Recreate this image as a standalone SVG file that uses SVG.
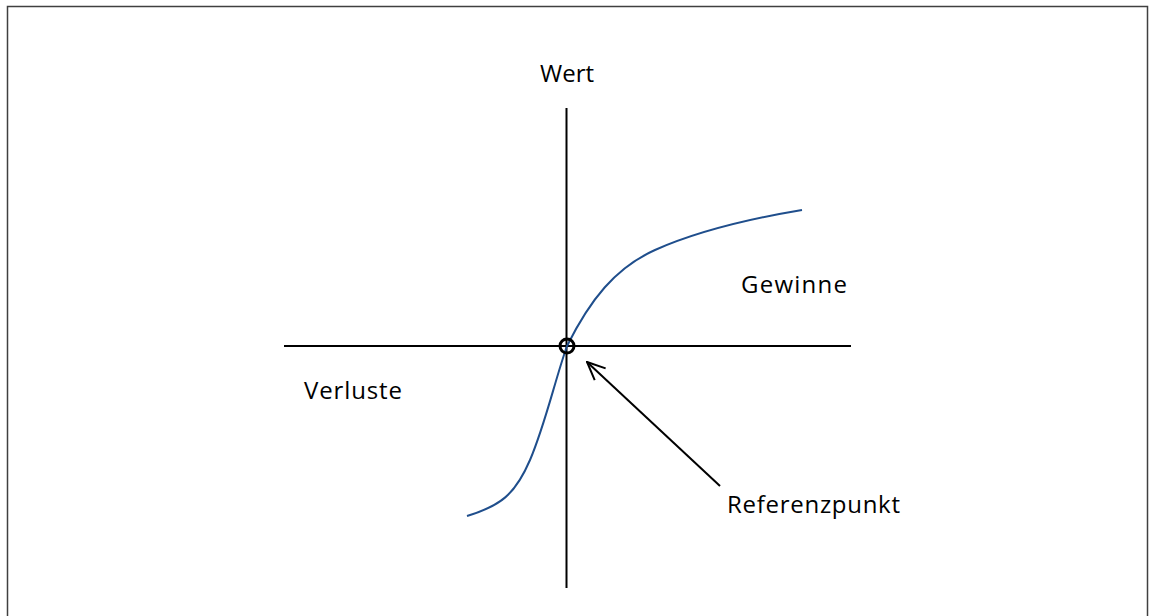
<svg xmlns="http://www.w3.org/2000/svg" width="1149" height="616" viewBox="0 0 1149 616">
<style>
.axis{stroke:#000;stroke-width:2;fill:none}
.lbl{font-family:"Open Sans",Lato,sans-serif;font-size:24px;fill:#000}
</style>
<defs>
<marker id="open" markerWidth="20" markerHeight="20" refX="19" refY="10" orient="auto" markerUnits="userSpaceOnUse">
<path d="M1,2 L19,10 L1,18" fill="none" stroke="#000" stroke-width="2"/>
</marker>
</defs>
<rect x="7.5" y="6.5" width="1140" height="620" fill="#fff" stroke="#404040" stroke-width="1.5"/>
<g id="connectors">
<line class="axis" x1="566.5" y1="108" x2="566.5" y2="588"/>
<line class="axis" x1="284" y1="346" x2="851" y2="346"/>
<path d="M467,516 C500,506 515,495 530,460 C545,425 555,380 567,346 C590,300 615,268 655,250 C700,230 760,217 802,210" fill="none" stroke="#1f4e8c" stroke-width="2"/>
<line x1="720" y1="486" x2="587" y2="362" stroke="#000" stroke-width="2" marker-end="url(#open)"/>
</g>
<g id="referenzpunkt-marker">
<circle cx="567" cy="346" r="7" fill="none" stroke="#000" stroke-width="3"/>
</g>
<g id="wert"><text class="lbl" x="540" y="82" textLength="54">Wert</text></g>
<g id="gewinne"><text class="lbl" x="741" y="293" textLength="106">Gewinne</text></g>
<g id="verluste"><text class="lbl" x="304" y="399" textLength="98">Verluste</text></g>
<g id="referenzpunkt"><text class="lbl" x="727" y="513" textLength="173">Referenzpunkt</text></g>
</svg>
